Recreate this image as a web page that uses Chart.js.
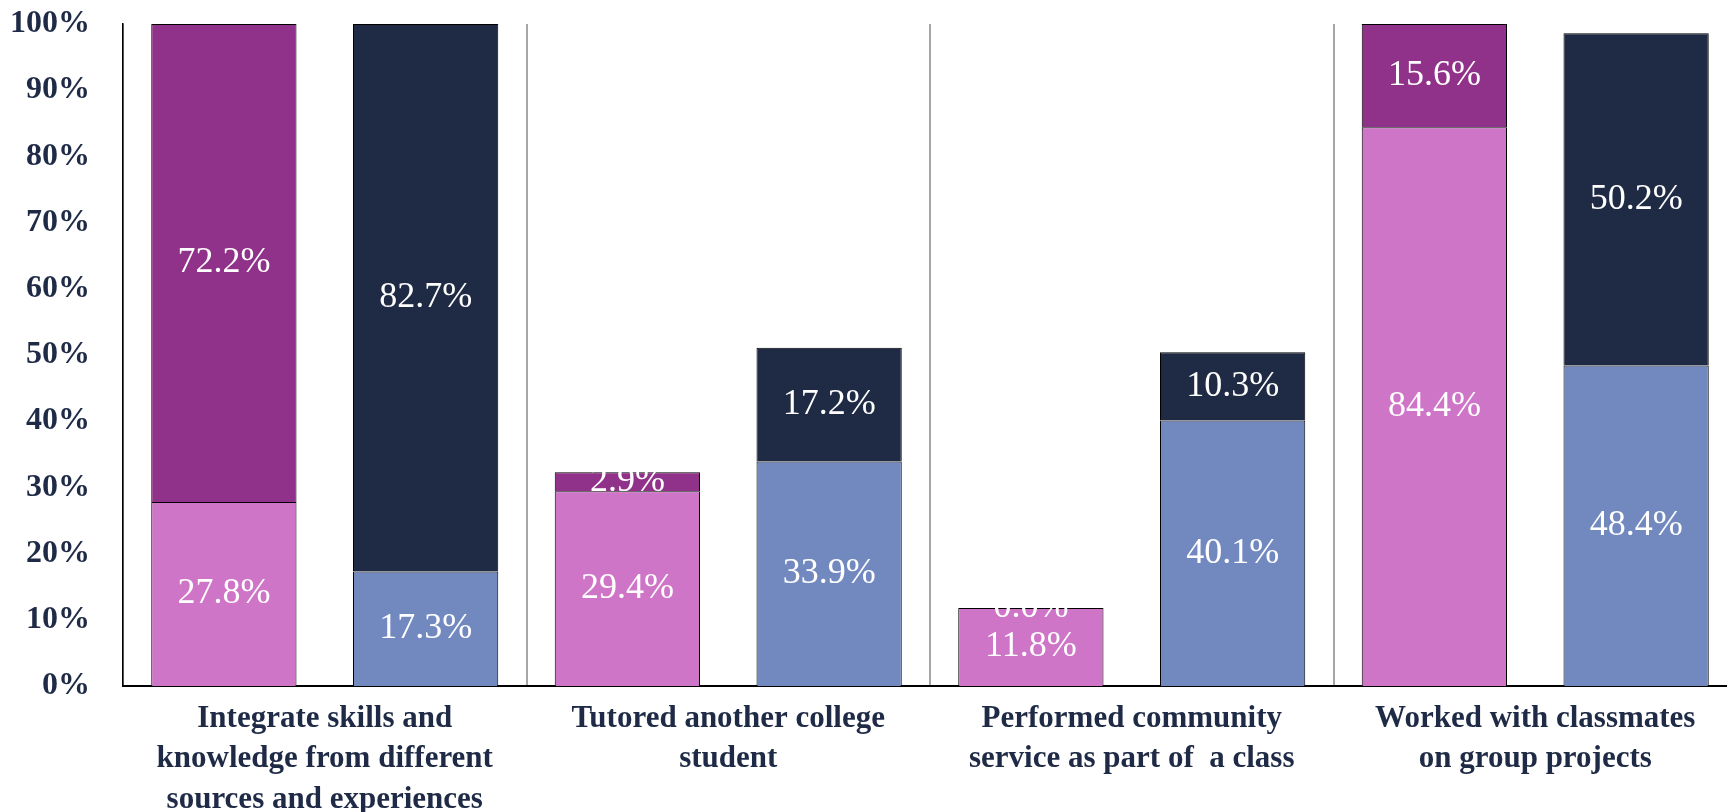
<!DOCTYPE html>
<html lang="en">
<head>
<meta charset="UTF-8">
<title>Stacked bars</title>
<script src="https://cdn.jsdelivr.net/npm/chart.js"></script>
<style>
  html, body { margin: 0; padding: 0; background: #fff; overflow: hidden; }
</style>
</head>
<body>
<canvas id="chart" width="1740" height="812"></canvas>
<script>
// categories (multi-line labels)
var categories = [
    ["Integrate skills and", "knowledge from different", "sources and experiences"],
    ["Tutored another college", "student"],
    ["Performed community", "service as part of  a class"],
    ["Worked with classmates", "on group projects"]
];
// first bar in each group
var pinkLower = [27.8, 29.4, 11.8, 84.4];
var purpleUpper = [72.2, 2.9, 0.0, 15.6];
// second bar in each group
var blueLower = [17.3, 33.9, 40.1, 48.4];
var navyUpper = [82.7, 17.2, 10.3, 50.2];
var yTicks = [0, 10, 20, 30, 40, 50, 60, 70, 80, 90, 100];

var textColor = '#1F2B46';
var serif = "'Liberation Serif', 'DejaVu Serif', serif";

// draws the white value labels in the middle of every segment
var valueLabels = {
    id: 'valueLabels',
    afterDatasetsDraw: function(chart) {
        var ctx = chart.ctx;
        ctx.save();
        ctx.fillStyle = '#fff';
        ctx.font = '36px ' + serif;
        ctx.textAlign = 'center';
        ctx.textBaseline = 'middle';
        chart.data.datasets.forEach(function(ds, i) {
            var meta = chart.getDatasetMeta(i);
            meta.data.forEach(function(bar, j) {
                var y = (bar.y + bar.base) / 2;
                ctx.fillText(ds.data[j].toFixed(1) + '%', bar.x, y);
            });
        });
        ctx.restore();
    }
};

var ctx = document.getElementById('chart').getContext('2d');
var chart = new Chart(ctx, {
    type: 'bar',
    data: {
        labels: categories,
        datasets: [
            { label: 'a1', data: pinkLower, stack: 'a', backgroundColor: '#CF75C8' },
            { label: 'a2', data: purpleUpper, stack: 'a', backgroundColor: '#90318A' },
            { label: 'b1', data: blueLower, stack: 'b', backgroundColor: '#7289C0' },
            { label: 'b2', data: navyUpper, stack: 'b', backgroundColor: '#1F2B45' }
        ]
    },
    options: {
        responsive: false,
        animation: false,
        layout: { padding: { top: 24, right: 3, left: 0, bottom: 0 } },
        datasets: {
            bar: {
                categoryPercentage: 1.0,
                barPercentage: 0.72,
                borderColor: '#000',
                borderWidth: 1
            }
        },
        plugins: {
            legend: { display: false },
            tooltip: { enabled: false }
        },
        scales: {
            x: {
                stacked: true,
                grid: {
                    offset: true,
                    color: '#A6A6A6',
                    lineWidth: 2,
                    drawTicks: false
                },
                border: { display: true, color: '#000', width: 2 },
                ticks: {
                    color: textColor,
                    font: { family: serif, size: 31, weight: 'bold', lineHeight: 1.3 },
                    padding: 13,
                    maxRotation: 0,
                    autoSkip: false
                },
                afterFit: function(scale) { scale.height = 126; }
            },
            y: {
                stacked: true,
                min: 0,
                max: 100,
                afterBuildTicks: function(scale) {
                    scale.ticks = yTicks.map(function(v) { return { value: v }; });
                },
                grid: { display: false, drawTicks: false },
                border: { display: true, color: '#000', width: 1.5 },
                ticks: {
                    color: textColor,
                    font: { family: serif, size: 32, weight: 'bold' },
                    padding: 33,
                    callback: function(v) { return v + '%'; }
                },
                afterFit: function(scale) {
                    scale.width = 123;
                    scale.paddingTop = 0;
                    scale.paddingBottom = 0;
                }
            }
        }
    },
    plugins: [valueLabels]
});
</script>
</body>
</html>
